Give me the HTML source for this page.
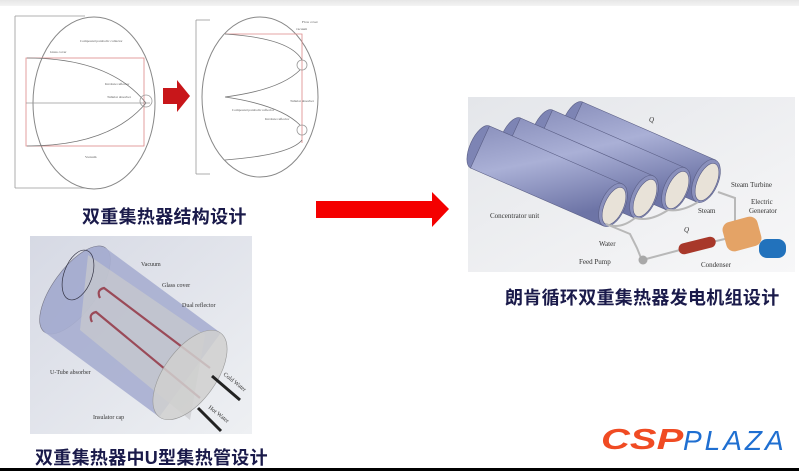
<!DOCTYPE html>
<html><head><meta charset="utf-8"><style>
html,body{margin:0;padding:0;background:#fff;}
body{width:799px;height:471px;position:relative;overflow:hidden;font-family:"Liberation Sans","Noto Sans CJK SC",sans-serif;}
.t{position:absolute;font-weight:bold;color:#1a1a4a;font-size:18px;white-space:nowrap;letter-spacing:0.3px;font-family:"Liberation Sans","Noto Sans CJK SC",sans-serif;}
svg{position:absolute;left:0;top:0;}
</style></head><body>
<div style="position:absolute;left:0;top:0;width:799px;height:6px;background:linear-gradient(#e6e6e6,#f4f4f4);"></div>
<svg width="799" height="471" viewBox="0 0 799 471" font-family="Liberation Serif,serif">
<defs>
<linearGradient id="bg" x1="0" y1="0" x2="1" y2="1"><stop offset="0" stop-color="#e4e6ea"/><stop offset="1" stop-color="#f7f7f8"/></linearGradient>
<linearGradient id="cy" x1="0" y1="0" x2="0.3" y2="1"><stop offset="0" stop-color="#8a90bc"/><stop offset="0.45" stop-color="#aab0d6"/><stop offset="1" stop-color="#6d74a6"/></linearGradient>
<linearGradient id="ub" x1="0" y1="0" x2="1" y2="1"><stop offset="0" stop-color="#d6d9e4"/><stop offset="1" stop-color="#eef0f3"/></linearGradient>
</defs>
<g fill="none" stroke="#999" stroke-width="0.8">
<line x1="15" y1="16" x2="85" y2="16"/><line x1="15" y1="16" x2="15" y2="188"/><line x1="15" y1="188" x2="85" y2="188"/>
<ellipse cx="94" cy="103" rx="61" ry="86" stroke="#888" stroke-width="1"/>
<rect x="26" y="58" width="118" height="88" stroke="#d88"/>
<path d="M27 58 Q110 58 146 103 Q110 146 27 146" stroke="#777"/>
<line x1="26" y1="103" x2="150" y2="103"/>
<circle cx="146" cy="101" r="6"/>
</g>
<g font-size="3.5" fill="#555">
<text x="80" y="42">Compound parabolic collector</text>
<text x="50" y="53">Glass cover</text>
<text x="105" y="85">Involute reflector</text>
<text x="107" y="98">Tubular absorber</text>
<text x="85" y="158">Vacuum</text>
</g>
<polygon points="163,88 177,88 177,80 190,96 177,112 177,104 163,104" fill="#c8161a"/>
<g fill="none" stroke="#999" stroke-width="0.8">
<line x1="196" y1="20" x2="210" y2="20"/><line x1="196" y1="20" x2="196" y2="174"/><line x1="196" y1="174" x2="210" y2="174"/>
<ellipse cx="260" cy="97" rx="58" ry="80" stroke="#888" stroke-width="1"/>
<path d="M225 34 L302 34 L302 143" stroke="#d88"/>
<path d="M225 34 Q290 38 302 60 M225 97 Q280 90 300 70 M225 97 Q280 105 300 125 M225 160 Q290 155 302 140" stroke="#777"/>
<circle cx="302" cy="65" r="5"/><circle cx="302" cy="130" r="5"/>
</g>
<g font-size="3.5" fill="#555">
<text x="302" y="23">Flow cover</text><text x="296" y="30">vacuum</text>
<text x="290" y="102">Tubular absorber</text>
<text x="232" y="111">Compound parabolic reflector</text>
<text x="265" y="120">Involute reflector</text>
</g>
<polygon points="316,201 432,201 432,192 449,209 432,227 432,218 316,218" fill="#f40000"/>
<rect x="468" y="97" width="327" height="175" fill="url(#bg)"/>
<g stroke="#5a5e85" stroke-width="0.6">
<ellipse cx="573" cy="123" rx="10" ry="23" transform="rotate(24 573 123)" fill="#7d84b4"/>
<polygon points="582.5,102 715.5,160 696.5,202 563.5,144" fill="url(#cy)"/>
<ellipse cx="706" cy="181" rx="12" ry="23" transform="rotate(24 706 181)" fill="#8a90bc"/>
<ellipse cx="707" cy="182" rx="9.5" ry="20" transform="rotate(24 707 182)" fill="#e8e2d8"/>
<ellipse cx="543" cy="131" rx="10" ry="23" transform="rotate(24 543 131)" fill="#7d84b4"/>
<polygon points="552.5,110 685.5,168 666.5,210 533.5,152" fill="url(#cy)"/>
<ellipse cx="676" cy="189" rx="12" ry="23" transform="rotate(24 676 189)" fill="#8a90bc"/>
<ellipse cx="677" cy="190" rx="9.5" ry="20" transform="rotate(24 677 190)" fill="#e8e2d8"/>
<ellipse cx="511" cy="139" rx="10" ry="23" transform="rotate(24 511 139)" fill="#7d84b4"/>
<polygon points="520.5,118 653.5,176 634.5,218 501.5,160" fill="url(#cy)"/>
<ellipse cx="644" cy="197" rx="12" ry="23" transform="rotate(24 644 197)" fill="#8a90bc"/>
<ellipse cx="645" cy="198" rx="9.5" ry="20" transform="rotate(24 645 198)" fill="#e8e2d8"/>
<ellipse cx="480" cy="147" rx="10" ry="23" transform="rotate(24 480 147)" fill="#7d84b4"/>
<polygon points="489.5,126 622.5,184 603.5,226 470.5,168" fill="url(#cy)"/>
<ellipse cx="613" cy="205" rx="12" ry="23" transform="rotate(24 613 205)" fill="#8a90bc"/>
<ellipse cx="614" cy="206" rx="9.5" ry="20" transform="rotate(24 614 206)" fill="#e8e2d8"/>
</g>
<g fill="none" stroke="#b8b8b8" stroke-width="2">
<path d="M606 224 Q620 230 635 218 Q650 222 668 210 Q682 212 698 202"/>
<path d="M606 224 L630 234 L637 248 L641 258"/>
<path d="M718 192 L735 198 L735 225"/>
<path d="M646 259 L680 250 M712 242 L742 235"/>
</g>
<rect x="678" y="240" width="38" height="11" rx="5.5" transform="rotate(-14 697 245)" fill="#a8382a"/>
<rect x="724" y="219" width="36" height="30" rx="8" transform="rotate(-15 742 234)" fill="#e4a366"/>
<rect x="759" y="239" width="27" height="19" rx="8" fill="#2272bc"/>
<circle cx="643" cy="260" r="4.5" fill="#a8a8a8"/>
<g font-size="7" fill="#333">
<text x="649" y="122" font-style="italic">Q</text>
<text x="731" y="187">Steam Turbine</text>
<text x="751" y="204">Electric</text><text x="749" y="213">Generator</text>
<text x="698" y="213">Steam</text>
<text x="490" y="218">Concentrator unit</text>
<text x="599" y="246">Water</text>
<text x="579" y="264">Feed Pump</text>
<text x="701" y="267">Condenser</text>
<text x="684" y="232" font-style="italic">Q</text>
</g>
<rect x="30" y="236" width="222" height="198" fill="url(#ub)"/>
<ellipse cx="75" cy="290" rx="22" ry="52" transform="rotate(36 75 290)" fill="#a7aed0" stroke="#778" stroke-width="0.6"/>
<polygon points="105.7,248 220.7,333 159.3,417 44.3,332" fill="#a7aed0" fill-opacity="0.9"/>
<path d="M88 255 L205 335 L190 420 L80 330 Z" fill="#c9cacd" fill-opacity="0.7"/>
<ellipse cx="78" cy="275" rx="14" ry="26" transform="rotate(20 78 275)" fill="none" stroke="#334" stroke-width="0.7"/>
<g fill="none" stroke="#9a4a58" stroke-width="2.2">
<path d="M100 298 Q96 290 104 288 L210 368"/>
<path d="M92 322 Q88 314 96 312 L200 398"/>
</g>
<ellipse cx="190" cy="375" rx="26" ry="52" transform="rotate(36 190 375)" fill="#d0d0cf" fill-opacity="0.85" stroke="#999" stroke-width="0.6"/>
<g stroke="#222" stroke-width="3"><line x1="212" y1="376" x2="240" y2="400"/><line x1="198" y1="408" x2="221" y2="431"/></g>
<g font-size="6" fill="#333">
<text x="141" y="266">Vacuum</text>
<text x="162" y="287">Glass cover</text>
<text x="182" y="307">Dual reflector</text>
<text x="50" y="374">U-Tube absorber</text>
<text x="93" y="419">Insulator cap</text>
<text x="223" y="375" transform="rotate(38 223 375)">Cold Water</text>
<text x="208" y="408" transform="rotate(38 208 408)">Hot Water</text>
</g>
<rect x="0" y="468" width="799" height="3" fill="#000"/>
</svg>
<div class="t" style="left:82px;top:203px;">双重集热器结构设计</div>
<div class="t" style="left:505px;top:284px;">朗肯循环双重集热器发电机组设计</div>
<div class="t" style="left:35px;top:444px;">双重集热器中U型集热管设计</div>
<div style="position:absolute;left:601px;top:424px;font:italic bold 29px 'Liberation Sans',sans-serif;color:#f04b23;letter-spacing:0px;transform:scaleX(1.38);transform-origin:0 0;">CSP</div>
<div style="position:absolute;left:683px;top:425px;font:italic 28px 'Liberation Sans',sans-serif;color:#1f6fd1;letter-spacing:3px;">PLAZA</div>
</body></html>
